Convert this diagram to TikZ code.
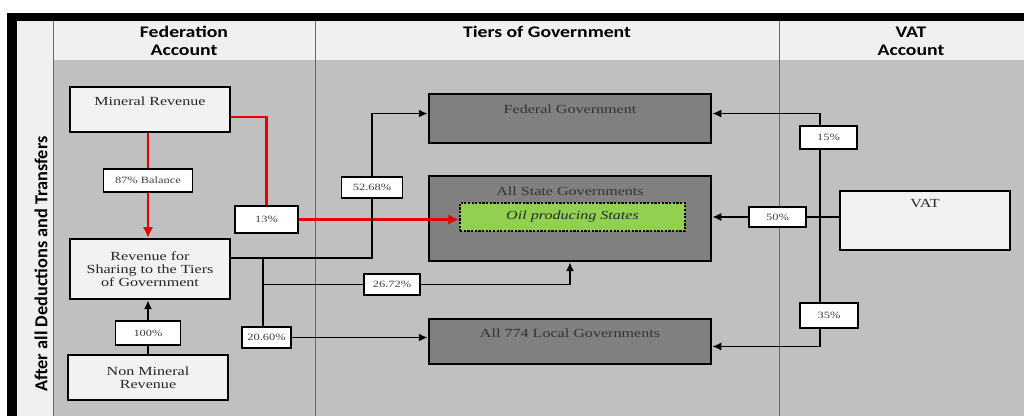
\documentclass[tikz,border=0pt]{standalone}
\usepackage{fontspec}
\setmainfont{Liberation Serif}[FakeStretch=1.3]
\newfontfamily\hdrfont{Carlito}[FakeStretch=1.22]
\newfontfamily\sidefont{Carlito}
\usetikzlibrary{arrows.meta}
\definecolor{hd}{RGB}{240,240,240}
\definecolor{bg}{RGB}{192,192,192}
\definecolor{lt}{RGB}{242,242,242}
\definecolor{dk}{RGB}{128,128,128}
\definecolor{ol}{RGB}{146,208,80}
\definecolor{rd}{RGB}{232,0,0}
\definecolor{dv}{RGB}{105,105,105}

\begin{document}
\begin{tikzpicture}[x=0.025cm,y=-0.025cm,
    box/.style={rectangle,draw,line width=2pt,fill=lt,align=center,inner sep=2pt,text=black!85,font=\fontsize{8.8}{9.4}\selectfont},
    gov/.style={box,fill=dk,text=black!80},
    pct/.style={rectangle,draw,line width=0.9pt,fill=white,inner sep=1pt,text=black!75,font=\fontsize{6.8}{7}\selectfont},
    hdr/.style={align=center,font=\hdrfont\bfseries\fontsize{11.5}{13}\selectfont},
    ln/.style={line width=0.9pt},
    arr/.style={-{Latex[length=2.2mm,width=2mm]},line width=0.9pt},
    redln/.style={draw=rd,line width=1.6pt},
    redarr/.style={redln,-{Latex[length=2.6mm,width=2.6mm]}},
]
\useasboundingbox (0,0) rectangle (1024,416);
\fill[black] (7,13) rectangle (1024,21);
\fill[black] (7,13) rectangle (17,416);
\fill[hd] (17,21) rectangle (1024,60);
\fill[hd] (17,60) rectangle (53,416);
\fill[bg] (53,60) rectangle (1024,416);
\foreach \x in {53,315,779} \draw[dv,line width=0.6pt] (\x,21) -- (\x,416);

\node[hdr] (hfed) at (184,41) {Federation\\Account};
\node[hdr] (htier) at (547,32) {Tiers of Government};
\node[hdr] (hvat) at (911,41) {VAT\\Account};
\node[rotate=90,font=\sidefont\bfseries\fontsize{13}{15}\selectfont] (side) at (41,264) {After all Deductions and Transfers};

\node[box,minimum width=4cm,minimum height=1.125cm,text depth=12.4pt] (mineral) at (150,109.5) {Mineral Revenue};
\node[box,minimum width=4cm,minimum height=1.5cm] (rev) at (150,269) {Revenue for\\Sharing to the Tiers\\of Government};
\node[box,minimum width=4cm,minimum height=1.125cm] (nonmin) at (148,377.5) {Non Mineral\\Revenue};

\node[gov,minimum width=7.05cm,minimum height=1.225cm,text depth=13.8pt] (fed) at (570,118.5) {Federal Government};
\node[gov,minimum width=7.05cm,minimum height=2.125cm,text depth=39pt] (state) at (570,218.5) {All State Governments};
\node[rectangle,draw,densely dotted,line width=1.6pt,fill=ol,minimum width=5.625cm,minimum height=0.7cm,text=black!85,font=\fontsize{8.8}{9.4}\selectfont\itshape] (oil) at (572.5,217) {Oil producing States};
\node[gov,minimum width=7.05cm,minimum height=1.125cm,text depth=12.4pt] (local) at (570,341.5) {All 774 Local Governments};
\node[box,minimum width=4.25cm,minimum height=1.475cm,text depth=23.7pt] (vat) at (925,220.5) {VAT};

\node[pct,minimum width=2.225cm,minimum height=0.575cm] (bal87) at (148,180.5) {87\% Balance};
\node[pct,minimum width=1.575cm,minimum height=0.675cm] (p13) at (266.5,219.5) {13\%};
\node[pct,minimum width=1.625cm,minimum height=0.6cm] (p100) at (148,333) {100\%};
\node[pct,minimum width=1.225cm,minimum height=0.525cm] (p2060) at (266.5,337.5) {20.60\%};
\node[pct,minimum width=1.525cm,minimum height=0.525cm] (p5268) at (372,187.5) {52.68\%};
\node[pct,minimum width=1.4cm,minimum height=0.525cm] (p2672) at (392,284.5) {26.72\%};
\node[pct,minimum width=1.425cm,minimum height=0.575cm] (p15) at (828.5,137.5) {15\%};
\node[pct,minimum width=1.425cm,minimum height=0.5cm] (p50) at (777.5,217) {50\%};
\node[pct,minimum width=1.45cm,minimum height=0.625cm] (p35) at (829,315.5) {35\%};

\coordinate (split) at (263,258);
\coordinate (vjoin) at (820,217);

\draw[redln] (bal87 |- mineral.south) -- (bal87.north);
\draw[redarr] (bal87.south) -- (bal87 |- rev.north);
\draw[redln] (mineral.-5) -| (p13.north);
\draw[redarr] (p13.east) -- (oil.west |- p13.east);

\draw[ln] (nonmin.north -| p100) -- (p100.south);
\draw[arr] (p100.north) -- (p100.north |- rev.south);

\draw[ln] (rev.east |- split) -| (p5268.south);
\draw[arr] (p5268.north) |- (fed.178);
\draw[ln] (split) -- (split |- p2060.north);
\draw[ln] (split |- p2672) -- (p2672.west);
\draw[arr] (p2672.east) -| (state.south);
\draw[arr] (p2060.east) -- (local.west |- p2060.east);

\draw[ln] (vat.west |- vjoin) -- (p50.east);
\draw[arr] (p50.west) -- (state.east |- p50.west);
\draw[ln] (vjoin |- p15.south) -- (vjoin |- p35.north);
\draw[arr] (vjoin |- p15.north) |- (fed.2);
\draw[arr] (vjoin |- p35.south) |- (local.-2);
\end{tikzpicture}
\end{document}
